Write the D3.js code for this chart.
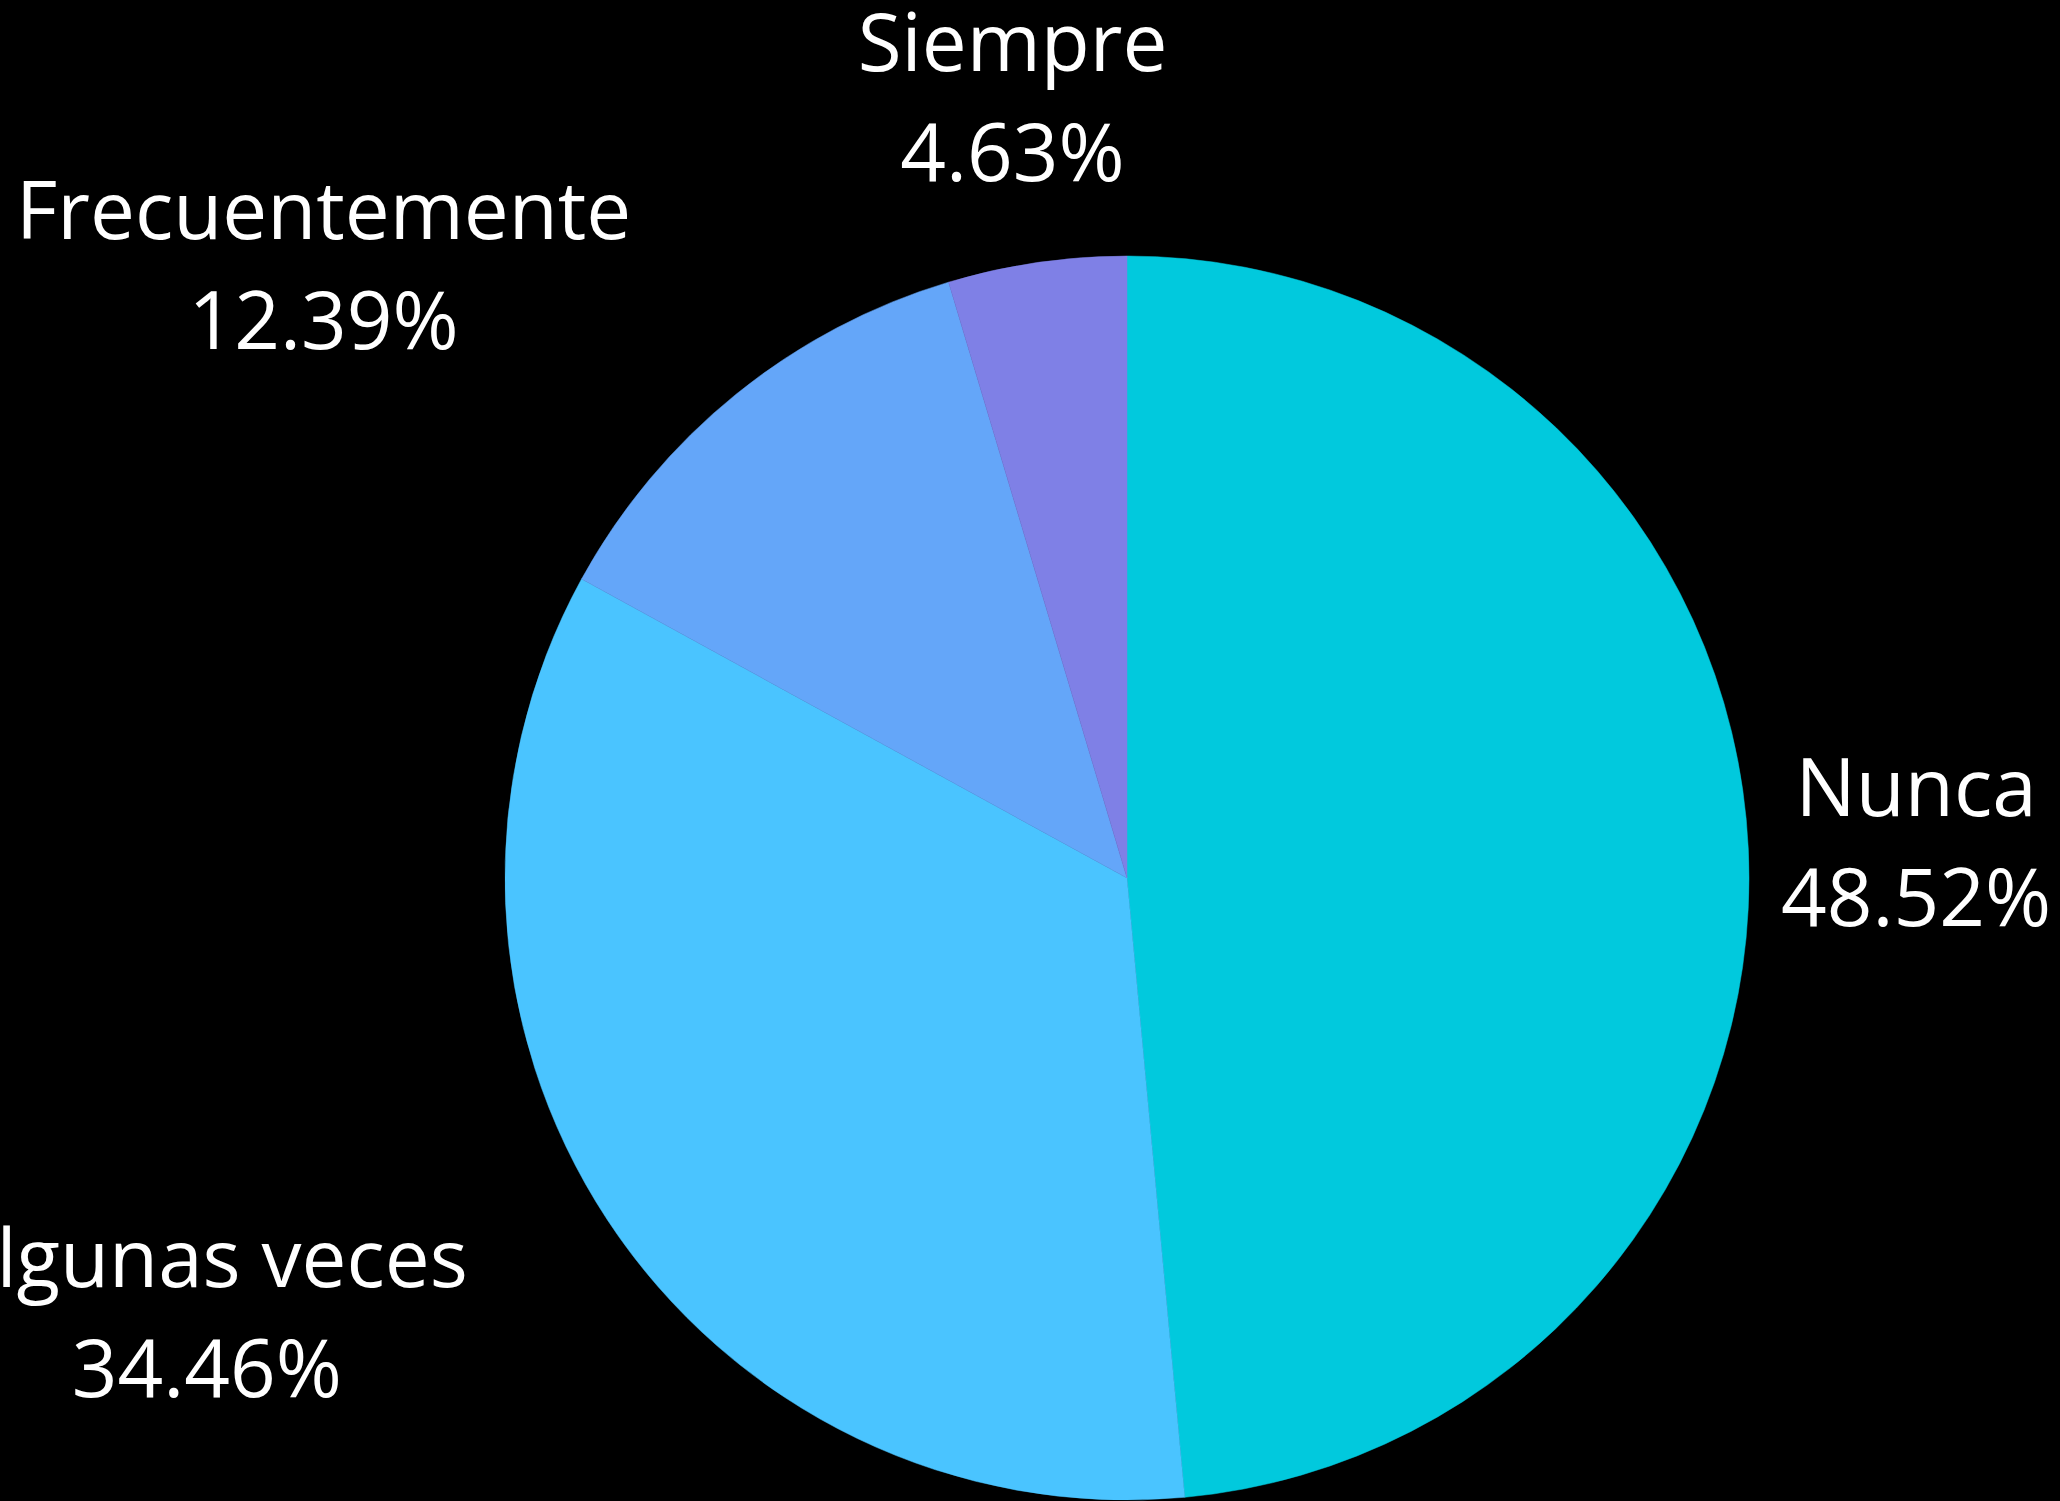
<!DOCTYPE html>
<html>
<head>
<meta charset="utf-8">
<script src="https://cdn.jsdelivr.net/npm/d3@7"></script>
<style>
  html, body { margin: 0; padding: 0; background: #000; overflow: hidden; }
  svg { display: block; }
</style>
</head>
<body>
<svg id="chart" width="2060" height="1501"></svg>
<script>
const categories = ["Nunca", "Algunas veces", "Frecuentemente", "Siempre"];
const values = [48.52, 34.46, 12.39, 4.63];
const percentLabels = ["48.52%", "34.46%", "12.39%", "4.63%"];
const colors = ["#01C9DD", "#4AC4FF", "#64A6F9", "#7F80E6"];

const W = 2060, H = 1501;
const cx = 1127, cy = 878, r = 622;
const labelR = r * 1.27;
const fontSize = 80, lineGap = 110;

const svg = d3.select("#chart");
svg.append("rect").attr("width", W).attr("height", H).attr("fill", "#000");

const data = categories.map((c, i) => ({ cat: c, value: values[i], pct: percentLabels[i], color: colors[i] }));
const pie = d3.pie().sort(null).value(d => d.value);
const arcs = pie(data);
const arc = d3.arc().innerRadius(0).outerRadius(r);
const labelArc = d3.arc().innerRadius(labelR).outerRadius(labelR);

const g = svg.append("g").attr("transform", `translate(${cx},${cy})`);

g.selectAll("path.slice")
  .data(arcs)
  .join("path")
  .attr("class", "slice")
  .attr("d", arc)
  .attr("fill", d => d.data.color)
  .attr("stroke", d => d.data.color)
  .attr("stroke-width", 0.5);

const labels = g.selectAll("text.lbl")
  .data(arcs)
  .join("text")
  .attr("class", "lbl")
  .attr("fill", "#fff")
  .attr("font-family", "'Open Sans', 'Noto Sans', sans-serif")
  .attr("font-size", fontSize)
  .attr("text-anchor", "middle");

labels.each(function(d) {
  const t = d3.select(this);
  const [px, py] = labelArc.centroid(d);
  const l1 = t.append("tspan").text(d.data.cat);
  const l2 = t.append("tspan").text(d.data.pct);
  const w = Math.max(l1.node().getComputedTextLength(), l2.node().getComputedTextLength());
  let x = px;
  if (px < -0.3 * labelR) x = px - w / 2 + 1;
  l1.attr("x", x).attr("y", py - 25);
  l2.attr("x", x).attr("y", py - 25 + lineGap);
});
</script>
</body>
</html>
